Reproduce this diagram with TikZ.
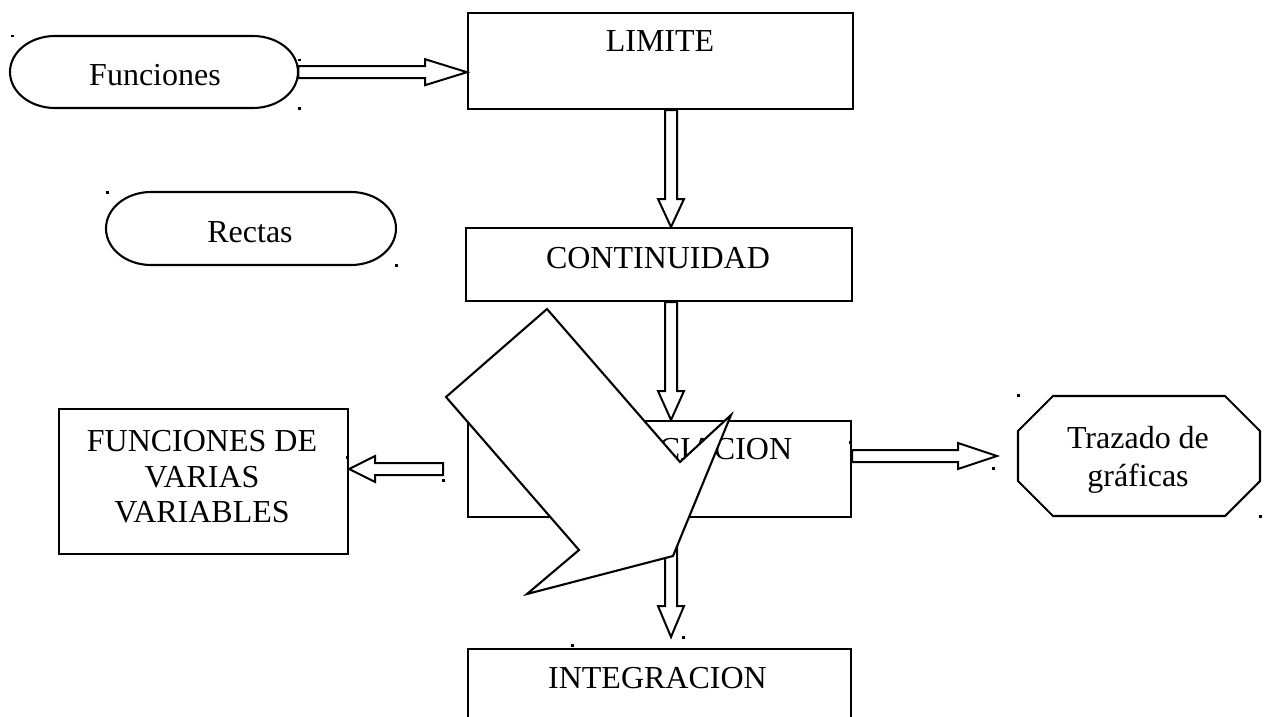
\documentclass[tikz,border=0pt]{standalone}
\usepackage{fontspec}
\setmainfont{Liberation Serif}
\usetikzlibrary{calc}
\tikzset{
  shp/.style={draw=black, line width=2.1pt, fill=white, line join=miter},
  arrline/.style={draw=black, line width=2pt, fill=white, line join=miter},
  txt/.style={font=\fontsize{32}{36}\selectfont, inner sep=0pt, align=center},
  boxnode/.style={draw=black, line width=2.1pt, inner sep=0pt, anchor=north west},
  ghost/.style={inner sep=0pt, anchor=north west},
  speck/.style={fill=black},
}
\newcommand\hollowarrow[3]{%
  \coordinate (hb) at ($(#3)!#1!(#2)$);
  \draw[arrline] ($(#2)!6pt!90:(#3)$) -- ($(hb)!6pt!90:(#3)$) -- ($(hb)!13pt!90:(#3)$) -- (#3)
     -- ($(hb)!13pt!-90:(#3)$) -- ($(hb)!6pt!-90:(#3)$) -- ($(#2)!6pt!-90:(#3)$) -- cycle;}
\begin{document}
\begin{tikzpicture}[x=1pt, y=-1pt]
\useasboundingbox (0,0) rectangle (1267,717);
\clip (0,0) rectangle (1267,717);

% Funciones (stadium)
\node[ghost, minimum width=288pt, minimum height=72pt] (fun) at (10,36) {};
\draw[shp] (55,36) -- (253,36) .. controls (277.9,36) and (298,52.1) .. (298,72)
  .. controls (298,91.9) and (277.9,108) .. (253,108) -- (55,108)
  .. controls (30.1,108) and (10,91.9) .. (10,72)
  .. controls (10,52.1) and (30.1,36) .. cycle;
\node[txt] (funt) at (155,75) {Funciones};

% Rectas (stadium)
\node[ghost, minimum width=290pt, minimum height=73pt] (rec) at (106,192) {};
\draw[shp] (151,192) -- (351,192) .. controls (375.9,192) and (396,208.3) .. (396,228.5)
  .. controls (396,248.7) and (375.9,265) .. (351,265) -- (151,265)
  .. controls (126.1,265) and (106,248.7) .. (106,228.5)
  .. controls (106,208.3) and (126.1,192) .. cycle;
\node[txt] (rect) at (250,232.5) {Rectas};

% Boxes
\node[boxnode, minimum width=385pt, minimum height=96pt] (lim) at (467,12) {};
\node[txt] (limt) at (660,41) {LIMITE};

\node[boxnode, minimum width=386pt, minimum height=73pt] (cont) at (465,227) {};
\node[txt] (contt) at (658,258) {CONTINUIDAD};

\node[boxnode, minimum width=383pt, minimum height=96pt] (dif) at (467,420) {};
\node[txt] (dift) at (658,449) {DIFERENCIACION};

\node[boxnode, minimum width=289pt, minimum height=145pt] (fvv) at (58,408) {};
\node[txt, font=\fontsize{32}{35.5}\selectfont] (fvvt) at (202,477) {FUNCIONES DE\\VARIAS\\VARIABLES};

\node[boxnode, minimum width=383pt, minimum height=90pt] (integ) at (467,648) {};
\node[txt] (integt) at (657.5,678) {INTEGRACION};

% Trazado (octagon)
\node[ghost, minimum width=242pt, minimum height=120pt] (traz) at (1018,396) {};
\draw[shp] (1053,396) -- (1225,396) -- (1260,431) -- (1260,481) -- (1225,516)
  -- (1053,516) -- (1018,481) -- (1018,431) -- cycle;
\node[txt, font=\fontsize{32}{38.5}\selectfont] (trazt) at (1138,460) {Trazado de\\gráficas};

% connectors
\coordinate (col) at (671,0);
\coordinate (tipint) at (671,637);
\coordinate (startfvv) at (443,469);
\coordinate (rowtraz) at (0,456);
\coordinate (tiptraz) at (997,456);

\hollowarrow{42pt}{fun.east}{lim.west |- fun.east}
\hollowarrow{28pt}{lim.south -| col}{cont.north -| col}
\hollowarrow{29pt}{cont.south -| col}{dif.north -| col}
\hollowarrow{31pt}{dif.south -| col}{tipint}
\hollowarrow{26pt}{startfvv}{fvv.east |- startfvv}
\hollowarrow{39pt}{dif.east |- rowtraz}{tiptraz}

% big block arrow
\draw[shp] (547,309) -- (446,397) -- (579,550) -- (527,594) -- (673,556)
  -- (731,415) -- (680,462) -- cycle;

% small specks
\foreach \p in {(11,35),(298,59),(298,107),(106,191),(395,264),(346,456),(442,479),
  (849,441),(1017,394),(992,467),(1259,515),(571,644),(682,636)}
  \fill[speck] \p rectangle ++(2.5,2.5);
\end{tikzpicture}
\end{document}
